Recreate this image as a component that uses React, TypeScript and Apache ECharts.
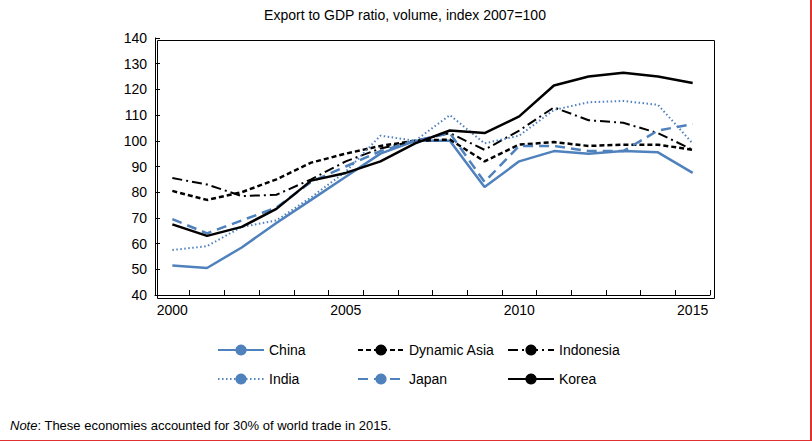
import { useEffect, useRef } from 'react';
import * as echarts from 'echarts';

const years = Array.from({ length: 16 }, (_, i) => String(2000 + i));
const china = [51.5, 50.5, 58.5, 68, 77, 86, 95, 100, 100, 82, 92, 96, 95, 96, 95.5, 87.5];
const dynamicAsia = [80.5, 77, 80, 85, 91.5, 95, 98, 100, 100.5, 92, 98.5, 99.5, 98, 98.5, 98.5, 96.5];
const indonesia = [85.5, 83, 78.5, 79, 85, 92, 97, 100, 103, 96.5, 104, 113, 108, 107, 103, 96.5];
const india = [57.5, 59, 66.5, 69, 78, 88, 102, 100, 110, 99, 102, 112, 115, 115.5, 114, 99];
const japan = [69.5, 64, 69, 74, 84, 90, 96, 100, 103, 84, 98, 98, 96, 96, 104, 106.5];
const korea = [67.5, 63, 66.5, 73.5, 84.5, 87.5, 92, 99, 104, 103, 109.5, 121.5, 125, 126.5, 125, 122.5];

const BLUE = '#4f81bd';
const font = 'Arial, "Liberation Sans", sans-serif';

const App = () => {
  const chartRef = useRef<HTMLDivElement>(null);

  useEffect(() => {
    if (!chartRef.current) return;
    const chart = echarts.init(chartRef.current, undefined, { renderer: 'svg' });
    const mk = (name: string, data: number[], color: string, type: any, width = 2.5) => ({
      name, type: 'line', data, symbol: 'none',
      lineStyle: { color, type, width }, itemStyle: { color },
    });
    const legendBase = {
      orient: 'vertical', top: 338, itemWidth: 46, itemHeight: 14, itemGap: 15,
      textStyle: { fontFamily: font, fontSize: 14, color: '#000' },
    };
    chart.setOption({
      animation: false,
      title: {
        text: 'Export to GDP ratio, volume, index 2007=100', left: 'center', top: 3,
        textStyle: { fontFamily: font, fontSize: 14, fontWeight: 'normal', color: '#000' },
      },
      grid: { left: 155, right: 100, top: 38, bottom: 145 },
      xAxis: {
        type: 'category', data: years, boundaryGap: true,
        axisLine: { lineStyle: { color: '#000' } },
        axisTick: { show: true, interval: 0, inside: true, lineStyle: { color: '#000' } },
        axisLabel: {
          interval: (i: number) => i % 5 === 0, color: '#000', fontFamily: font, fontSize: 14,
        },
      },
      yAxis: {
        type: 'value', min: 40, max: 140, interval: 10,
        axisLine: { show: true, lineStyle: { color: '#000' } },
        axisTick: { show: true, inside: true, lineStyle: { color: '#000' } },
        axisLabel: { color: '#000', fontFamily: font, fontSize: 14 },
        splitLine: { show: false },
      },
      legend: [
        { ...legendBase, left: 212, data: ['China', 'India'] },
        { ...legendBase, left: 352, data: ['Dynamic Asia', 'Japan'] },
        { ...legendBase, left: 502, data: ['Indonesia', 'Korea'] },
      ],
      graphic: [
        { type: 'rect', left: 155, top: 38, shape: { width: 557, height: 258 }, style: { fill: 'none', stroke: '#000', lineWidth: 1 }, silent: true },
        {
          type: 'text', left: 10, top: 419,
          style: {
            text: '{i|Note}: These economies accounted for 30% of world trade in 2015.',
            font: `13px ${font}`, fill: '#000',
            rich: { i: { fontStyle: 'italic', fontFamily: font, fontSize: 13 } },
          },
        },
      ],
      series: [
        mk('China', china, BLUE, 'solid', 2.5),
        mk('Dynamic Asia', dynamicAsia, '#000', [5, 3], 2.5),
        mk('Indonesia', indonesia, '#000', [10, 4, 2, 4], 2),
        mk('India', india, BLUE, [1.5, 2.5], 2),
        mk('Japan', japan, BLUE, [10, 6], 2.5),
        mk('Korea', korea, '#000', 'solid', 2.5),
      ],
    });
    return () => chart.dispose();
  }, []);

  return (
    <div style={{ position: 'fixed', left: 0, top: 0, width: 812, height: 441, background: '#fff', boxSizing: 'border-box', borderRight: '2px solid #e03030', borderBottom: '1px solid #e03030' }}>
      <div ref={chartRef} style={{ width: 810, height: 440 }} />
    </div>
  );
};

export default App;
